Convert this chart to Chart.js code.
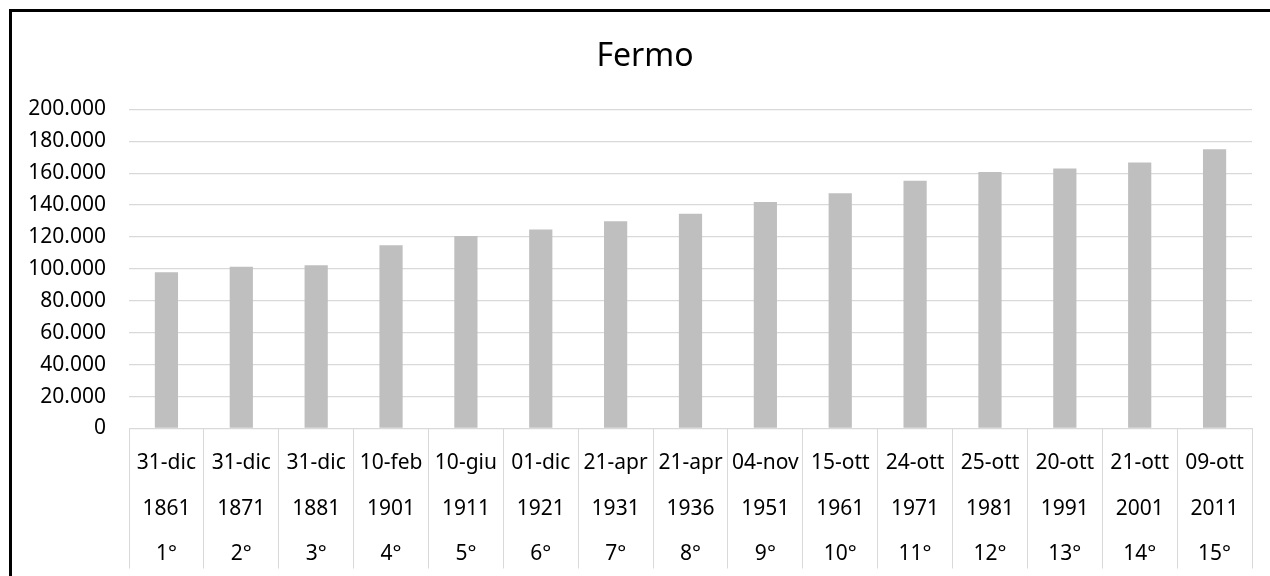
<!DOCTYPE html>
<html>
<head>
<meta charset="utf-8">
<script src="https://cdn.jsdelivr.net/npm/chart.js@4/dist/chart.umd.min.js"></script>
<style>
  html, body { margin: 0; padding: 0; background: #fff; overflow: hidden; }
  #frame { position: absolute; left: 9px; top: 9px; width: 1400px; height: 700px; border: 3px solid #000; }
  #wrap { position: absolute; left: 0; top: 0; width: 1270px; height: 576px; }
</style>
</head>
<body>
<div id="frame"></div>
<div id="wrap"><canvas id="chart" width="1270" height="576"></canvas></div>
<script>
// Censimenti della popolazione, provincia di Fermo
const dates = ["31-dic", "31-dic", "31-dic", "10-feb", "10-giu", "01-dic", "21-apr", "21-apr",
  "04-nov", "15-ott", "24-ott", "25-ott", "20-ott", "21-ott", "09-ott"];
const years = ["1861", "1871", "1881", "1901", "1911", "1921", "1931", "1936",
  "1951", "1961", "1971", "1981", "1991", "2001", "2011"];
const census = ["1°", "2°", "3°", "4°", "5°", "6°", "7°", "8°", "9°", "10°", "11°", "12°", "13°", "14°", "15°"];
const population = [97900, 101400, 102300, 114800, 120700, 124700, 129900, 134600,
  141900, 147400, 155300, 160800, 162900, 166700, 175000];

const labels = dates.map((d, i) => [d, years[i], census[i]]);
const fmt = (v) => String(v).replace(/\B(?=(\d{3})+(?!\d))/g, ".");

Chart.defaults.font.family = "'Noto Sans', sans-serif";
Chart.defaults.color = "#000";

// title sits centred on the whole frame, not on the padded layout box
const shiftTitle = {
  id: "shiftTitle",
  afterLayout(chart) {
    const t = chart.titleBlock;
    if (t) { t.left += 19; t.right += 19; }
  },
};

new Chart(document.getElementById("chart"), {
  type: "bar",
  data: {
    labels: labels,
    datasets: [{
      label: "Fermo",
      data: population,
      backgroundColor: "#bfbfbf",
      barPercentage: 0.31,
      categoryPercentage: 1,
    }],
  },
  options: {
    responsive: false,
    animation: false,
    layout: { padding: { left: 0, right: 18, top: 0, bottom: 0 } },
    plugins: {
      legend: { display: false },
      tooltip: { enabled: false },
      title: {
        display: true,
        text: "Fermo",
        color: "#000",
        font: { size: 32, weight: "normal" },
        padding: { top: 38, bottom: 33 },
      },
    },
    scales: {
      x: {
        grid: { drawOnChartArea: false, drawTicks: true, tickLength: 140, color: "#d9d9d9", offset: true },
        border: { color: "#d9d9d9" },
        ticks: { font: { size: 21, lineHeight: 2.17 }, padding: -128, maxRotation: 0, autoSkip: false },
        afterFit: (s) => { s.height = 147.5; },
      },
      y: {
        min: 0,
        max: 200000,
        grid: { color: "#d9d9d9", drawTicks: false, lineWidth: 1.3 },
        border: { display: false },
        ticks: { stepSize: 20000, font: { size: 21 }, padding: 23, callback: (v) => fmt(v) },
        afterFit: (s) => { s.width = 129; },
      },
    },
  },
  plugins: [shiftTitle],
});
</script>
</body>
</html>
